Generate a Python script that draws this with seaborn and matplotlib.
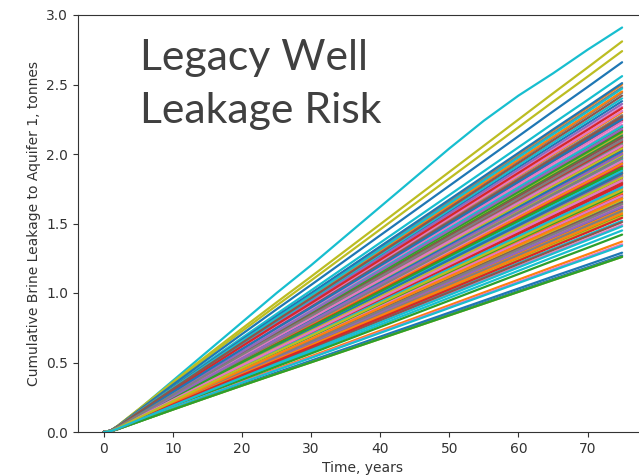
import numpy as np
import pandas as pd
import matplotlib
matplotlib.use("Agg")
import matplotlib.pyplot as plt
import seaborn as sns

# Simulation output times (years)
times = [0, 1, 2, 5, 10, 15, 20, 25, 30, 35, 40, 45, 50, 55, 60, 65, 70, 75]

# Normalised cumulative-leakage profile (fraction of the 75-year total)
profile_base = [0, 0.004, 0.016, 0.058, 0.128, 0.197, 0.265, 0.332, 0.398,
                0.465, 0.532, 0.599, 0.666, 0.733, 0.800, 0.867, 0.933, 1.0]

# Highest-leakage realisation, tracked explicitly (tonnes)
leak_max_run = [0, 0.01, 0.04, 0.16, 0.37, 0.58, 0.79, 1.00, 1.20,
                1.41, 1.62, 1.83, 2.04, 2.24, 2.42, 2.58, 2.75, 2.91]
max_run_index = 9

# Cumulative brine leakage after 75 years for each realisation (tonnes)
final_leakage = [
    2.12, 1.88, 1.64, 2.05, 1.77, 1.95, 2.21, 1.70, 1.58, 2.91,
    1.83, 2.30, 1.99, 1.71, 2.14, 1.62, 1.90, 2.44, 2.81, 2.56,
    1.66, 1.37, 2.08, 1.93, 1.80, 2.26, 1.74, 2.02, 2.74, 1.52,
    2.66, 1.85, 1.56, 2.17, 1.97, 1.68, 2.34, 1.79, 1.91, 2.10,
    1.61, 2.01, 2.19, 1.86, 1.73, 2.06, 1.49, 2.28, 1.67, 1.96,
    1.29, 1.75, 1.89, 2.24, 2.11, 1.82, 1.63, 1.94, 2.15, 1.45,
    2.38, 2.50, 1.42, 1.78, 1.92, 2.03, 1.35, 1.69, 1.81, 2.20,
    1.98, 1.60, 2.13, 2.00, 1.76, 1.87, 2.23, 2.48, 1.55, 1.34,
    2.51, 1.72, 1.84, 2.09, 2.36, 1.65, 1.95, 1.59, 2.04, 1.88,
    1.27, 1.93, 2.16, 1.79, 1.62, 2.27, 1.70, 2.07, 1.26, 2.40,
    2.02, 2.45, 1.26, 1.91, 1.84, 2.12, 2.31, 1.64, 1.99, 1.76,
    1.86, 1.57, 1.73, 2.33, 2.18, 1.51, 2.06, 1.97, 1.83, 2.47,
    2.25, 1.68, 1.90, 1.54, 2.00, 2.42, 1.81, 2.10, 1.74, 1.48,
]

x_ticks = [0, 10, 20, 30, 40, 50, 60, 70]
y_ticks = [0.0, 0.5, 1.0, 1.5, 2.0, 2.5, 3.0]

# Long-form table: one row per realisation per output time
rows = []
for i, total in enumerate(final_leakage):
    if i == max_run_index:
        values = leak_max_run
    else:
        values = [total * f for f in profile_base]
    for t, v in zip(times, values):
        rows.append({"run": f"r{i:03d}", "time": t, "leak": v})
df = pd.DataFrame(rows)
runs = [f"r{i:03d}" for i in range(len(final_leakage))]

sns.set_style("ticks", rc={
    "axes.edgecolor": "0.2",
    "axes.linewidth": 0.8,
    "xtick.color": "0.2",
    "ytick.color": "0.2",
    "text.color": "0.2",
    "axes.labelcolor": "0.2",
})

W, H = 639, 475
fig = plt.figure(figsize=(W / 100, H / 100), dpi=100)
# axes frame runs past the right edge of the canvas
ax = fig.add_axes([78 / W, (H - 432) / H, 570 / W, 417 / H])

sns.lineplot(
    data=df, x="time", y="leak", hue="run", hue_order=runs,
    palette=sns.color_palette("tab10", len(runs)),
    estimator=None, legend=False, linewidth=1.6, ax=ax,
)

ax.set_xlim(-3.75, 78.75)
ax.set_ylim(0, 3.0)
ax.set_xticks(x_ticks)
ax.set_yticks(y_ticks)
ax.set_xticklabels([str(v) for v in x_ticks], fontsize=10)
ax.set_yticklabels([f"{v:.1f}" for v in y_ticks], fontsize=10)
ax.set_xlabel("Time, years", fontsize=10)
ax.set_ylabel("Cumulative Brine Leakage to Aquifer 1, tonnes", fontsize=10)
ax.spines["right"].set_visible(False)

fig.text(140 / W, (H - 70) / H, "Legacy Well", family="Lato", fontsize=30.8,
         color="#404040", ha="left", va="baseline")
fig.text(140 / W, (H - 123) / H, "Leakage Risk", family="Lato", fontsize=30.8,
         color="#404040", ha="left", va="baseline")

fig.savefig("out.png", dpi=100)
